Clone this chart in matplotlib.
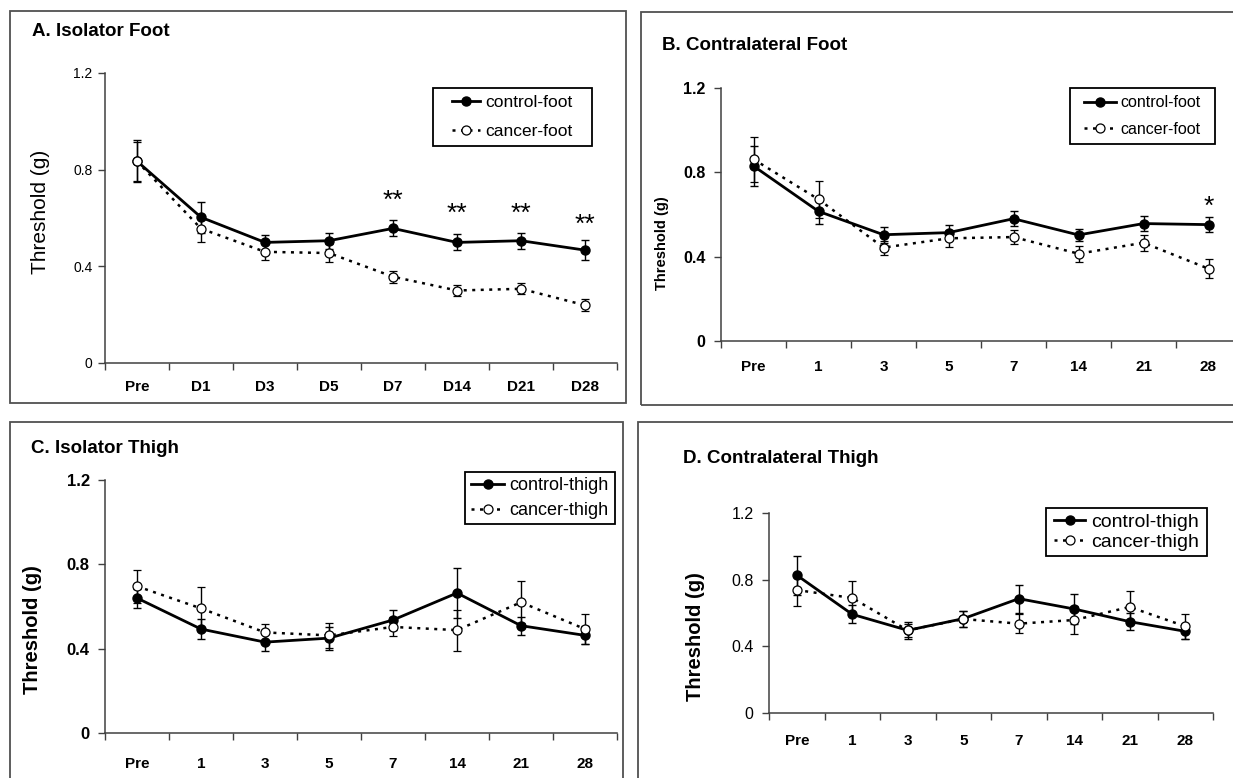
import numpy as np
import matplotlib
matplotlib.use("Agg")
import matplotlib.pyplot as plt
from matplotlib.patches import Rectangle
from matplotlib.lines import Line2D
from matplotlib.transforms import offset_copy

plt.rcParams['font.family'] = ['Liberation Sans', 'DejaVu Sans']

W, H = 1233, 778

# ---- data ----
days_A = ['Pre', 'D1', 'D3', 'D5', 'D7', 'D14', 'D21', 'D28']
days = ['Pre', '1', '3', '5', '7', '14', '21', '28']

A_ctrl = [0.835, 0.603, 0.499, 0.506, 0.557, 0.499, 0.506, 0.467]
A_ctrl_err = [0.088, 0.065, 0.032, 0.033, 0.033, 0.033, 0.033, 0.042]
A_canc = [0.835, 0.556, 0.460, 0.455, 0.357, 0.300, 0.307, 0.239]
A_canc_err = [0.080, 0.056, 0.033, 0.036, 0.025, 0.022, 0.023, 0.024]

B_ctrl = [0.830, 0.615, 0.504, 0.514, 0.580, 0.503, 0.557, 0.552]
B_ctrl_err = [0.095, 0.060, 0.037, 0.036, 0.035, 0.030, 0.036, 0.036]
B_canc = [0.862, 0.672, 0.443, 0.487, 0.493, 0.414, 0.466, 0.343]
B_canc_err = [0.106, 0.088, 0.033, 0.040, 0.035, 0.038, 0.038, 0.046]

C_ctrl = [0.640, 0.493, 0.431, 0.450, 0.536, 0.664, 0.509, 0.463]
C_ctrl_err = [0.045, 0.048, 0.043, 0.055, 0.049, 0.120, 0.042, 0.043]
C_canc = [0.696, 0.591, 0.477, 0.463, 0.503, 0.488, 0.620, 0.493]
C_canc_err = [0.079, 0.100, 0.040, 0.058, 0.045, 0.097, 0.100, 0.071]

D_ctrl = [0.827, 0.592, 0.496, 0.566, 0.686, 0.624, 0.548, 0.490]
D_ctrl_err = [0.118, 0.054, 0.050, 0.048, 0.085, 0.088, 0.052, 0.045]
D_canc = [0.738, 0.690, 0.496, 0.564, 0.536, 0.558, 0.636, 0.520]
D_canc_err = [0.096, 0.100, 0.040, 0.048, 0.058, 0.086, 0.094, 0.074]

# significance marks
A_sig_idx = [4, 5, 6, 7]
A_sig_y = [0.699, 0.645, 0.645, 0.600]
B_sig_idx = [7]
B_sig_y = [0.669]

yticks = [0, 0.4, 0.8, 1.2]
ytick_labels = ['0', '0.4', '0.8', '1.2']


def fx(px):
    return px / W


def fy(py):
    return 1 - py / H


def box(l, t, r, b):
    return [l / W, 1 - b / H, (r - l) / W, (b - t) / H]


fig = plt.figure(figsize=(W / 100, H / 100), dpi=100)
fig.patch.set_facecolor('white')

# panel frames
for (l, t, r, b) in [(10, 11, 626, 403), (641, 12, 1245, 405),
                     (10, 422, 623, 790), (638, 422, 1245, 790)]:
    fig.add_artist(Rectangle((fx(l), fy(b)), (r - l) / W, (b - t) / H,
                             transform=fig.transFigure, fill=False,
                             edgecolor='#505050', linewidth=1.3))


def panel(pos, cats, ctrl, ctrl_err, canc, canc_err, names,
          ytick_bold, ytick_size, ytick_pad, xpad,
          leg_box, leg_size, leg_space, hlen):
    ax = fig.add_axes(pos)
    x = np.arange(len(cats)) + 0.5
    ax.errorbar(x, ctrl, yerr=ctrl_err, color='black', lw=2.0, marker='o',
                ms=6.5, mfc='black', mec='black', ecolor='black',
                elinewidth=1.0, capsize=3, capthick=1.0, zorder=3)
    ax.errorbar(x, canc, yerr=canc_err, color='black', lw=1.8,
                ls=(0, (1.2, 2.2)), marker='o', ms=6.5, mfc='white',
                mec='black', mew=0.9, ecolor='black', elinewidth=1.0,
                capsize=3, capthick=1.0, zorder=4)
    ax.set_xlim(0, len(cats))
    ax.set_ylim(0, 1.2)
    ax.spines['top'].set_visible(False)
    ax.spines['right'].set_visible(False)
    for s in ['left', 'bottom']:
        ax.spines[s].set_color('#404040')
        ax.spines[s].set_linewidth(1.1)
    ax.set_yticks(yticks)
    ax.set_yticklabels(ytick_labels, fontsize=ytick_size,
                       fontweight='bold' if ytick_bold else 'normal')
    ax.tick_params(axis='y', direction='out', length=5, width=1.0,
                   color='#404040', pad=ytick_pad)
    ax.set_xticks(x)
    ax.set_xticklabels(cats, fontsize=11, fontweight='bold')
    ax.set_xticks(np.arange(len(cats) + 1), minor=True)
    ax.tick_params(axis='x', which='major', length=0, pad=xpad)
    ax.tick_params(axis='x', which='minor', direction='out', length=5,
                   width=1.0, color='#404040')
    ax.patch.set_alpha(0)

    # legend: frame drawn by hand so the padding matches
    l, t, r, b = leg_box
    fig.add_artist(Rectangle((fx(l), fy(b)), (r - l) / W, (b - t) / H,
                             transform=fig.transFigure, facecolor='white',
                             edgecolor='black', linewidth=1.3, zorder=5))
    h1 = Line2D([], [], color='black', lw=2.0, marker='o', ms=6.5,
                mfc='black', mec='black')
    h2 = Line2D([], [], color='black', lw=1.8, ls=(0, (1.2, 2.2)),
                marker='o', ms=6.5, mfc='white', mec='black', mew=0.9)
    leg = fig.legend([h1, h2], names, loc='center',
                     bbox_to_anchor=(fx((l + r) / 2), fy((t + b) / 2)),
                     fontsize=leg_size, frameon=False,
                     handlelength=hlen, handletextpad=0.3,
                     borderpad=0, labelspacing=leg_space, borderaxespad=0)
    leg.set_zorder(6)
    return ax


axA = panel(box(105, 73, 617, 363), days_A, A_ctrl, A_ctrl_err, A_canc,
            A_canc_err, ['control-foot', 'cancer-foot'], False, 10, 4, 12,
            (433, 88, 592, 146), 12.5, 0.75, 1.6)
axB = panel(box(721, 88, 1241, 341), days, B_ctrl, B_ctrl_err, B_canc,
            B_canc_err, ['control-foot', 'cancer-foot'], True, 11.5, 6, 14,
            (1070, 88, 1215, 144), 11.5, 0.7, 2.0)
axC = panel(box(105, 480, 617, 733), days, C_ctrl, C_ctrl_err, C_canc,
            C_canc_err, ['control-thigh', 'cancer-thigh'], True, 12, 6, 17,
            (465, 472, 615, 524), 13, 0.45, 1.8)
axD = panel(box(769, 513, 1213, 713), days, D_ctrl, D_ctrl_err, D_canc,
            D_canc_err, ['control-thigh', 'cancer-thigh'], False, 11.5, 6, 15,
            (1046, 508, 1207, 556), 14, 0.1, 1.6)

# asterisks, nudged down a little because the glyph sits high in its box
for i, yv in zip(A_sig_idx, A_sig_y):
    axA.text(i + 0.5, yv, '**', ha='center', va='center', fontsize=19,
             transform=offset_copy(axA.transData, fig=fig, y=-5, units='points'))
for i, yv in zip(B_sig_idx, B_sig_y):
    axB.text(i + 0.5, yv, '*', ha='center', va='center', fontsize=19,
             transform=offset_copy(axB.transData, fig=fig, y=-5, units='points'))

# titles
fig.text(fx(32), fy(36), 'A. Isolator Foot', fontsize=13.5,
         fontweight='bold', va='baseline')
fig.text(fx(662), fy(50), 'B. Contralateral Foot', fontsize=13.5,
         fontweight='bold', va='baseline')
fig.text(fx(31), fy(453), 'C. Isolator Thigh', fontsize=13.5,
         fontweight='bold', va='baseline')
fig.text(fx(683), fy(463), 'D. Contralateral Thigh', fontsize=13.5,
         fontweight='bold', va='baseline')

# y labels
fig.text(fx(41), fy(212), 'Threshold (g)', fontsize=15, rotation=90,
         ha='center', va='center')
fig.text(fx(662), fy(243), 'Threshold (g)', fontsize=10.5, rotation=90,
         ha='center', va='center', fontweight='bold')
fig.text(fx(32), fy(630), 'Threshold (g)', fontsize=14.5, rotation=90,
         ha='center', va='center', fontweight='bold')
fig.text(fx(695), fy(637), 'Threshold (g)', fontsize=14.5, rotation=90,
         ha='center', va='center', fontweight='bold')

fig.savefig('out.png', dpi=100)
